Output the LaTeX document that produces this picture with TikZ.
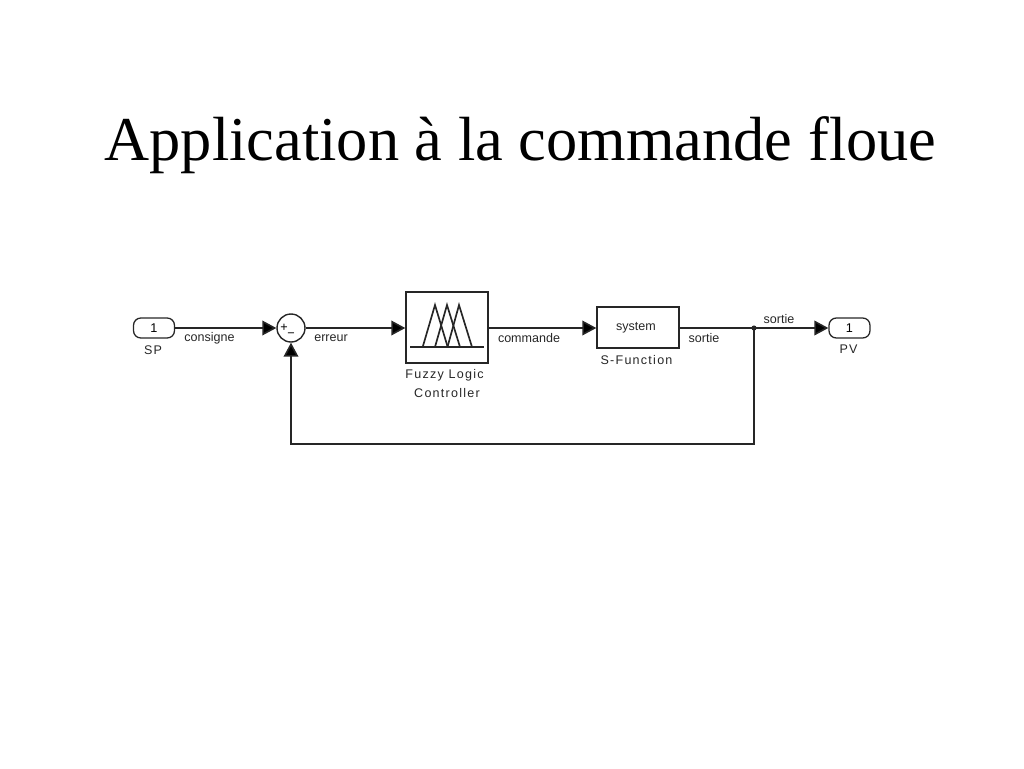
\documentclass[tikz,border=0pt]{standalone}
\usepackage{fontspec}
\setmainfont{Liberation Sans}
\newfontfamily\titlefont{Liberation Serif}
\newfontfamily\spacedfont[LetterSpace=10]{Liberation Sans}
\usetikzlibrary{arrows.meta}
\tikzset{
  x=0.75pt,y=-0.75pt,
  wire/.style={draw=black!85,line width=1.2pt},
  flow/.style={wire,-{Triangle[length=10.5pt,width=11pt,fill=black]}},
  port/.style={draw=black!85,line width=0.95pt,rounded corners=5.5pt,minimum width=30.75pt,minimum height=15pt,inner sep=0pt,font=\fontsize{9.5}{10}\selectfont},
  block/.style={draw=black!85,line width=1.05pt,inner sep=0pt},
  lbl/.style={inner sep=0pt,text=black!85,font=\fontsize{9.4}{10}\selectfont},
  namelbl/.style={inner sep=0pt,text=black!85,font=\spacedfont\fontsize{9.4}{10}\selectfont},
  memb/.style={draw=black!85,line width=1.25pt},
}
\begin{document}
\begin{tikzpicture}
\useasboundingbox (0,0) rectangle (1024,768);
\node[inner sep=0pt,font=\titlefont\fontsize{46.8}{50}\selectfont] (title) at (520.5,145.5) {Application à la commande floue};

\node[port] (sp) at (154,328) {1};
\node[draw=black!85,line width=1.05pt,circle,minimum size=21pt,inner sep=0pt] (sum) at (291,328) {};
\node[block,minimum width=61.5pt,minimum height=53.25pt] (fuzzy) at (447,327.5) {};
\node[block,minimum width=61.5pt,minimum height=30.75pt] (sfun) at (638,327.5) {};
\node[port] (pv) at (849.5,328) {1};
\coordinate (junction) at (754,328);
\coordinate (corner1) at (754,444);
\coordinate (corner2) at (291,444);

\draw[flow] (sp.east) -- (sum.west);
\draw[flow] (sum.east) -- (fuzzy.west |- sum.east);
\draw[flow] (fuzzy.east |- sum.east) -- (sfun.west |- sum.east);
\draw[flow] (sfun.east |- sum.east) -- (pv.west);
\draw[flow] (junction) -- (corner1) -- (corner2) -- (sum.south);
\fill[black!85] (junction) circle (1.9pt);

\node[inner sep=0pt,font=\fontsize{9.5}{10}\selectfont] (plus) at (284,328) {+};
\node[inner sep=0pt,font=\fontsize{9.5}{10}\selectfont] (minus) at (291,335) {−};

\draw[memb] (410,347) -- (484,347);
\draw[memb] (422.7,347) -- (435,305) -- (447.7,347);
\draw[memb] (435,347) -- (447,305) -- (460,347);
\draw[memb] (447.5,347) -- (459,305) -- (472,347);

\node[lbl] (tsystem) at (636,328) {system};
\node[lbl] (tconsigne) at (209.5,338.5) {consigne};
\node[lbl] (terreur) at (331,338.5) {erreur};
\node[lbl] (tcommande) at (529,338.5) {commande};
\node[lbl] (tsortie) at (704,338.5) {sortie};
\node[lbl] (tsortieb) at (779,319.5) {sortie};
\node[namelbl] (tsp) at (153,350) {SP};
\node[namelbl] (tpv) at (848.5,349) {PV};
\node[namelbl] (tsf) at (636.5,360) {S-Function};
\node[namelbl] (tfl) at (444.5,375.5) {Fuzzy Logic};
\node[namelbl] (tct) at (447,393) {Controller};
\end{tikzpicture}
\end{document}
